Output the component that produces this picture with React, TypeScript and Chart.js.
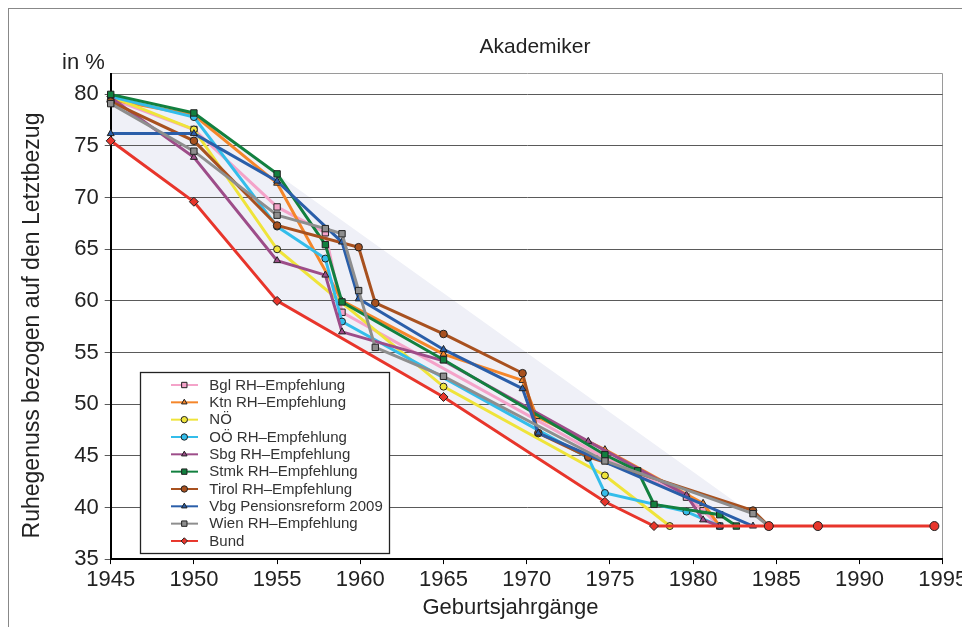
import React, { useEffect, useRef } from 'react';
import { Chart, registerables } from 'chart.js';
import { drawPoint } from 'chart.js/helpers';

Chart.register(...registerables);

const FONT = '"Liberation Sans", Arial, sans-serif';

const TITLE = 'Akademiker';
const UNIT = 'in %';
const X_TITLE = 'Geburtsjahrgänge';
const Y_TITLE = 'Ruhegenuss bezogen auf den Letztbezug';

const X_MIN = 1945;
const X_MAX = 1995;
const X_STEP = 5;
const Y_MIN = 35;
const Y_MAX = 82;
const yTickValues = [35, 40, 45, 50, 55, 60, 65, 70, 75, 80, 82];

const yearsBgl = [1945, 1950, 1955, 1957.9, 1958.9, 1974.7, 1979.6, 1980.6, 1981.6];
const valuesBgl = [79.6, 76.6, 69.1, 66.6, 58.9, 44.8, 41.0, 39.7, 38.2];

const yearsKtn = [1945, 1950, 1955, 1958.9, 1965, 1969.75, 1970.6, 1974.7, 1980.6, 1981.6];
const valuesKtn = [79.5, 78.0, 71.4, 60.0, 54.85, 52.3, 48.8, 45.6, 40.4, 38.2];

const yearsNoe = [1945, 1950, 1955, 1965, 1974.7, 1978.6];
const valuesNoe = [79.8, 76.6, 65.0, 51.7, 43.1, 38.2];

const yearsOoe = [1945, 1950, 1955, 1957.9, 1958.9, 1973.7, 1974.7, 1979.6, 1981.6];
const valuesOoe = [79.8, 77.8, 67.2, 64.1, 58.0, 44.8, 41.4, 39.6, 38.2];

const yearsSbg = [1945, 1950, 1955, 1957.9, 1958.9, 1965, 1973.7, 1979.6, 1980.6, 1981.6];
const valuesSbg = [79.7, 73.9, 63.9, 62.5, 57.0, 54.2, 46.4, 41.2, 38.8, 38.2];

const yearsStmk = [1945, 1950, 1955, 1957.9, 1958.9, 1965, 1974.7, 1976.67, 1977.65, 1981.6, 1982.6];
const valuesStmk = [80.0, 78.2, 72.3, 65.45, 59.9, 54.3, 45.1, 43.55, 40.3, 39.3, 38.2];

const yearsTirol = [1945, 1950, 1955, 1959.9, 1960.9, 1965, 1969.75, 1970.7, 1973.7, 1983.6, 1984.55];
const valuesTirol = [79.3, 75.5, 67.3, 65.2, 59.8, 56.8, 53.0, 47.2, 44.9, 39.7, 38.2];

const yearsVbg = [1945, 1950, 1955, 1958.9, 1959.9, 1965, 1969.75, 1970.7, 1983.6];
const valuesVbg = [76.2, 76.2, 71.6, 65.7, 60.2, 55.3, 51.5, 47.2, 38.2];

const yearsWien = [1945, 1950, 1955, 1957.9, 1958.9, 1959.9, 1960.9, 1965, 1974.7, 1983.6, 1984.55];
const valuesWien = [79.1, 74.5, 68.3, 67.0, 66.5, 61.0, 55.5, 52.7, 44.5, 39.4, 38.2];

const yearsBund = [1945, 1950, 1955, 1965, 1974.7, 1977.65, 1984.55, 1987.5, 1994.5];
const valuesBund = [75.5, 69.6, 60.0, 50.7, 40.55, 38.2, 38.2, 38.2, 38.2];

// upper edge of the shaded band (lower edge follows the Bund series)
const shadeTopYears = [1945, 1950, 1955, 1984.55];
const shadeTopValues = [80.0, 78.2, 72.3, 38.2];

type S = {
  label: string;
  years: number[];
  values: number[];
  color: string;
  style: any;
  radius: number;
};

const series: S[] = [
  { label: 'Bgl RH–Empfehlung', years: yearsBgl, values: valuesBgl, color: '#f4a3c9', style: 'rect', radius: 4.5 },
  { label: 'Ktn RH–Empfehlung', years: yearsKtn, values: valuesKtn, color: '#f5862a', style: 'triangle', radius: 4 },
  { label: 'NÖ', years: yearsNoe, values: valuesNoe, color: '#efe43a', style: 'circle', radius: 3.5 },
  { label: 'OÖ RH–Empfehlung', years: yearsOoe, values: valuesOoe, color: '#33bdea', style: 'circle', radius: 3.5 },
  { label: 'Sbg RH–Empfehlung', years: yearsSbg, values: valuesSbg, color: '#9d4d89', style: 'triangle', radius: 4 },
  { label: 'Stmk RH–Empfehlung', years: yearsStmk, values: valuesStmk, color: '#12803f', style: 'rect', radius: 4.5 },
  { label: 'Tirol RH–Empfehlung', years: yearsTirol, values: valuesTirol, color: '#a8511f', style: 'circle', radius: 3.8 },
  { label: 'Vbg Pensionsreform 2009', years: yearsVbg, values: valuesVbg, color: '#2a5ea9', style: 'triangle', radius: 4 },
  { label: 'Wien RH–Empfehlung', years: yearsWien, values: valuesWien, color: '#8e8e8e', style: 'rect', radius: 4.5 },
  {
    label: 'Bund',
    years: yearsBund,
    values: valuesBund,
    color: '#e8352b',
    style: yearsBund.map((y) => (y > 1980 ? 'circle' : 'rectRot')),
    radius: 4.5,
  },
];

const toPoints = (xs: number[], ys: number[]) => xs.map((x, i) => ({ x, y: ys[i] }));

const textPlugin = {
  id: 'texts',
  afterDraw(chart: any) {
    const ctx = chart.ctx;
    ctx.save();
    ctx.fillStyle = '#222';
    ctx.textBaseline = 'middle';
    ctx.font = `21px ${FONT}`;
    ctx.textAlign = 'center';
    ctx.fillText(TITLE, 535, 47);
    ctx.font = `22px ${FONT}`;
    ctx.textAlign = 'left';
    ctx.fillText(UNIT, 62, 63);
    ctx.textAlign = 'center';
    ctx.fillText(X_TITLE, 510.5, 608);
    ctx.translate(32.5, 325.5);
    ctx.rotate(-Math.PI / 2);
    ctx.font = `23px ${FONT}`;
    ctx.fillText(Y_TITLE, 0, 0);
    ctx.restore();
  },
};

const legendPlugin = {
  id: 'boxLegend',
  afterDatasetsDraw(chart: any) {
    const ctx = chart.ctx;
    const left = 140.5;
    const top = 372.5;
    const w = 249;
    const h = 181;
    ctx.save();
    ctx.fillStyle = '#ffffff';
    ctx.fillRect(left, top, w, h);
    ctx.strokeStyle = '#222';
    ctx.lineWidth = 1.3;
    ctx.strokeRect(left, top, w, h);
    series.forEach((s, i) => {
      const y = 385 + i * 17.33;
      ctx.strokeStyle = s.color;
      ctx.lineWidth = 2;
      ctx.beginPath();
      ctx.moveTo(171, y);
      ctx.lineTo(198, y);
      ctx.stroke();
      ctx.fillStyle = s.color;
      ctx.strokeStyle = '#222';
      ctx.lineWidth = 1;
      const st = Array.isArray(s.style) ? s.style[0] : s.style;
      drawPoint(ctx, { pointStyle: st, radius: st === 'rect' ? 3.8 : 3.2, rotation: 0, borderWidth: 1 } as any, 184.3, y);
      ctx.fillStyle = '#333';
      ctx.font = `15px ${FONT}`;
      ctx.textAlign = 'left';
      ctx.textBaseline = 'middle';
      ctx.fillText(s.label, 209.3, y + 0.5);
    });
    ctx.restore();
  },
};

export default function App() {
  const ref = useRef<HTMLCanvasElement | null>(null);

  useEffect(() => {
    if (!ref.current) return;
    const n = series.length;
    const lastTop = shadeTopYears[shadeTopYears.length - 1];
    const shadeYears = [...shadeTopYears, ...yearsBund.filter((y) => y < lastTop).reverse()];
    const shadeValues = [...shadeTopValues, ...valuesBund.filter((_, i) => yearsBund[i] < lastTop).reverse()];

    const datasets: any[] = [
      {
        label: 'shade',
        data: toPoints(shadeYears, shadeValues),
        borderWidth: 0,
        pointRadius: 0,
        backgroundColor: '#eff0f7',
        fill: 'shape',
        order: 100,
      },
      ...series.map((s, i) => ({
        label: s.label,
        data: toPoints(s.years, s.values),
        borderColor: s.color,
        borderWidth: 3,
        backgroundColor: s.color,
        pointBackgroundColor: s.color,
        pointBorderColor: '#222',
        pointBorderWidth: 1,
        pointStyle: s.style,
        pointRadius: s.radius,
        fill: false,
        tension: 0,
        clip: false,
        order: n - i,
      })),
    ];

    const chart = new Chart(ref.current, {
      type: 'line',
      data: { datasets },
      options: {
        animation: false,
        responsive: false,
        devicePixelRatio: 1,
        layout: { padding: { left: 0, right: 19.3, top: 73.7, bottom: 0 } },
        plugins: {
          legend: { display: false },
          tooltip: { enabled: false },
          filler: { drawTime: 'beforeDraw' },
        },
        scales: {
          x: {
            type: 'linear',
            min: X_MIN,
            max: X_MAX,
            ticks: {
              stepSize: X_STEP,
              callback: (v: any) => String(v),
              font: { family: FONT, size: 22 },
              color: '#222',
              padding: 3,
              maxRotation: 0,
              autoSkip: false,
            },
            grid: {
              color: (c: any) => (c.tick && c.tick.value === X_MAX ? '#9a9a9a' : 'rgba(0,0,0,0)'),
              tickColor: '#000',
              tickLength: 5,
              lineWidth: 1,
            },
            border: { color: '#000', width: 2 },
            afterFit: (scale: any) => {
              scale.height = 627 - 559.1;
              scale.paddingLeft = 0;
              scale.paddingRight = 0;
            },
          },
          y: {
            type: 'linear',
            min: Y_MIN,
            max: Y_MAX,
            afterBuildTicks: (scale: any) => {
              scale.ticks = yTickValues.map((v) => ({ value: v }));
            },
            ticks: {
              callback: (v: any) => (v === Y_MAX ? '' : String(v)),
              font: { family: FONT, size: 22 },
              color: '#222',
              padding: 6,
              autoSkip: false,
            },
            grid: {
              color: (c: any) => (c.tick && c.tick.value === Y_MAX ? '#9a9a9a' : '#5a5a5a'),
              tickColor: (c: any) => (c.tick && c.tick.value === Y_MAX ? 'rgba(0,0,0,0)' : '#5a5a5a'),
              tickLength: 6,
              lineWidth: 1,
            },
            border: { color: '#000', width: 2 },
            afterFit: (scale: any) => {
              scale.width = 110.7;
              scale.paddingTop = 0;
              scale.paddingBottom = 0;
            },
          },
        },
      } as any,
      plugins: [textPlugin, legendPlugin],
    });
    return () => chart.destroy();
  }, []);

  return (
    <>
      <div
        style={{
          position: 'fixed',
          left: 8,
          top: 8,
          width: 954,
          height: 619,
          borderTop: '1px solid #888',
          borderLeft: '1px solid #888',
          boxSizing: 'border-box',
        }}
      />
      <canvas
        ref={ref}
        width={962}
        height={627}
        style={{ position: 'fixed', left: 0, top: 0, width: 962, height: 627 }}
      />
    </>
  );
}
